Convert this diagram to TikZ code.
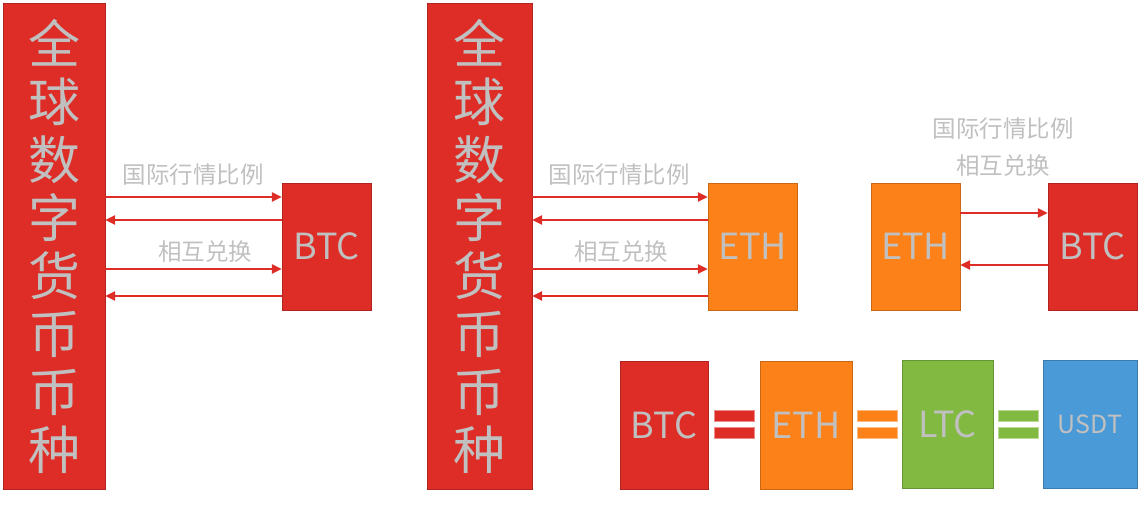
\documentclass[tikz,border=0pt]{standalone}
\usepackage{fontspec}
\setmainfont{Noto Sans CJK SC}
\usetikzlibrary{arrows.meta,positioning}
\definecolor{coinred}{RGB}{222,45,39}
\definecolor{coinorange}{RGB}{252,129,25}
\definecolor{coingreen}{RGB}{130,186,65}
\definecolor{coinblue}{RGB}{74,154,216}
\definecolor{ash}{RGB}{192,192,192}
\tikzset{
  >={Triangle[length=10pt,width=9pt]},
  bar/.style={fill=coinred,draw=coinred!80!black,minimum width=102pt,minimum height=486pt,
    text=ash,font=\fontsize{52}{58}\selectfont,align=center,inner sep=0pt},
  coin/.style={fill=#1,draw=#1!80!black,minimum width=89pt,minimum height=127pt,
    text=ash,font=\fontsize{36}{40}\selectfont,inner sep=0pt},
  coin/.default=coinred,
  flow/.style={line width=2.6pt,draw=coinred},
  tag/.style={text=ash,font=\fontsize{23.5}{26}\selectfont},
  eqbar/.style={fill=#1,draw=#1!55!white,line width=0.6pt},
}
\begin{document}
\begin{tikzpicture}[x=1pt,y=-1pt]
  \useasboundingbox (0,0) rectangle (1148,506);
  % left part
  \node[bar] (barA) at (54,246) {全\\球\\数\\字\\货\\币\\币\\种};
  \node[coin] (btcA) at (326.5,246.5) {BTC};
  \foreach \y/\d in {197/->,220/<-,269/->,296/<-}
    \draw[flow,\d] (barA.east |- 0,\y) -- (btcA.west |- 0,\y);
  \node[tag] (rateA) at (193,175) {国际行情比例};
  \node[tag] (swapA) at (205,252) {相互兑换};
  % middle part
  \node[bar,minimum width=105pt] (barB) at (479.5,246) {全\\球\\数\\字\\货\\币\\币\\种};
  \node[coin=coinorange] (ethA) at (752.5,246.5) {ETH};
  \foreach \y/\d in {197/->,220/<-,269/->,296/<-}
    \draw[flow,\d] (barB.east |- 0,\y) -- (ethA.west |- 0,\y);
  \node[tag] (rateB) at (619,175) {国际行情比例};
  \node[tag] (swapB) at (621,252) {相互兑换};
  % right part
  \node[coin=coinorange] (ethB) at (915.5,246.5) {ETH};
  \node[coin] (btcB) at (1092.5,246.5) {BTC};
  \draw[flow,->] (ethB.east |- 0,213) -- (btcB.west |- 0,213);
  \draw[flow,<-] (ethB.east |- 0,265) -- (btcB.west |- 0,265);
  \node[tag] (rateC) at (1003,129) {国际行情比例};
  \node[tag] (swapC) at (1003,166) {相互兑换};
  % equal row
  \node[coin,minimum width=88pt,minimum height=128pt] (btcC) at (664,425) {BTC};
  \node[coin=coinorange,minimum width=92pt,minimum height=128pt] (ethC) at (806,425) {ETH};
  \node[coin=coingreen,minimum width=91pt,minimum height=128pt] (ltcC) at (947.5,424) {LTC};
  \node[coin=coinblue,minimum width=94pt,minimum height=128pt,font=\fontsize{25}{28}\selectfont] (usdtC) at (1090,424) {USDT};
  \foreach \x/\c in {714/coinred,857/coinorange,998/coingreen} {
    \filldraw[eqbar=\c] (\x,410) rectangle ++(40,11);
    \filldraw[eqbar=\c] (\x,427) rectangle ++(40,11);
  }
\end{tikzpicture}
\end{document}
